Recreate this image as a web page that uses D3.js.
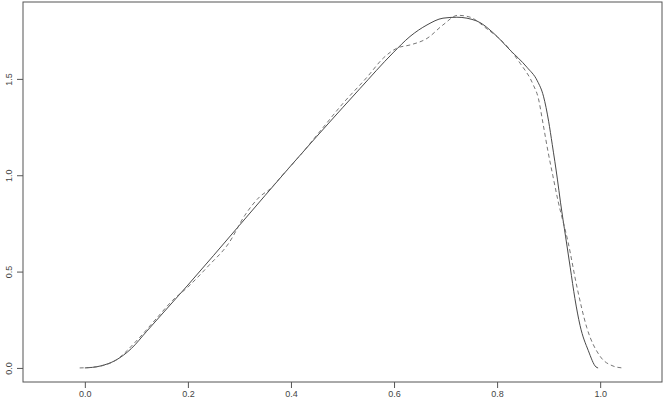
<!DOCTYPE html>
<html>
<head>
<meta charset="utf-8">
<script src="https://cdn.jsdelivr.net/npm/d3@7"></script>
<style>
  body { margin: 0; background: #fff; }
  text { font-family: "Liberation Sans", Arial, sans-serif; }
</style>
</head>
<body>
<div id="chart"></div>
<script>
// estimated curves
var solidX = [0, 0.03, 0.06, 0.09, 0.12, 0.15, 0.2, 0.3, 0.4, 0.5, 0.534, 0.598, 0.631, 0.664, 0.695, 0.722, 0.761, 0.792, 0.825, 0.858, 0.878, 0.89, 0.9, 0.907, 0.917, 0.923, 0.933, 0.942, 0.951, 0.961, 0.977, 0.992, 0.996];
var solidY = [0, 0.01, 0.04, 0.10, 0.19, 0.28, 0.43, 0.74, 1.05, 1.35, 1.45, 1.635, 1.72, 1.78, 1.815, 1.82, 1.80, 1.74, 1.65, 1.56, 1.49, 1.41, 1.28, 1.16, 0.98, 0.86, 0.68, 0.52, 0.36, 0.22, 0.09, 0.005, 0];

var dashX = [-0.01, 0.02, 0.06, 0.1, 0.14, 0.17, 0.2, 0.24, 0.28, 0.31, 0.34, 0.36, 0.38, 0.42, 0.46, 0.5, 0.548, 0.58, 0.606, 0.631, 0.664, 0.695, 0.724, 0.748, 0.78, 0.812, 0.845, 0.87, 0.88, 0.889, 0.899, 0.908, 0.918, 0.938, 0.955, 0.974, 1.0, 1.025, 1.043];
var dashY = [0, 0.005, 0.04, 0.14, 0.26, 0.35, 0.42, 0.53, 0.65, 0.79, 0.89, 0.93, 0.99, 1.11, 1.24, 1.37, 1.51, 1.61, 1.66, 1.676, 1.71, 1.78, 1.83, 1.82, 1.76, 1.69, 1.58, 1.47, 1.40, 1.27, 1.12, 1.00, 0.87, 0.65, 0.42, 0.21, 0.06, 0.01, 0];

var xTicks = [0, 0.2, 0.4, 0.6, 0.8, 1.0];
var yTicks = [0, 0.5, 1.0, 1.5];

var margin = {top: 2, right: 2, bottom: 25, left: 23},
    width = 664 - margin.left - margin.right,
    height = 407 - margin.top - margin.bottom;

var svg = d3.select("#chart")
  .append("svg")
    .attr("width", 664)
    .attr("height", 407)
  .append("g")
    .attr("transform", "translate(" + margin.left + "," + margin.top + ")");

var x = d3.scaleLinear()
  .domain([-0.12, 1.12])
  .range([0, width]);

var y = d3.scaleLinear()
  .domain([-0.073, 1.899])
  .range([height, 0]);

// box
svg.append("rect")
  .attr("x", 0).attr("y", 0)
  .attr("width", width).attr("height", height)
  .attr("fill", "none")
  .attr("stroke", "#555")
  .attr("stroke-width", 1);

var xAxis = svg.append("g")
  .attr("transform", "translate(0," + height + ")")
  .call(d3.axisBottom(x).tickValues(xTicks).tickFormat(d3.format(".1f")).tickSize(6).tickSizeOuter(0));

var yAxis = svg.append("g")
  .call(d3.axisLeft(y).tickValues(yTicks).tickFormat(d3.format(".1f")).tickSize(6).tickSizeOuter(0));

[xAxis, yAxis].forEach(function(a) {
  a.select(".domain").remove();
  a.selectAll("line").attr("stroke", "#555");
  a.selectAll("text").attr("fill", "#444").style("font-size", "9px");
});

yAxis.selectAll("text")
  .attr("transform", "rotate(-90)")
  .attr("x", 0)
  .attr("y", -11)
  .attr("dy", 0)
  .attr("text-anchor", "middle");

var line = d3.line()
  .x(function(d) { return x(d[0]); })
  .y(function(d) { return y(d[1]); })
  .curve(d3.curveMonotoneX);

svg.append("path")
  .datum(d3.zip(solidX, solidY))
  .attr("fill", "none")
  .attr("stroke", "#333")
  .attr("stroke-width", 0.9)
  .attr("d", line);

svg.append("path")
  .datum(d3.zip(dashX, dashY))
  .attr("fill", "none")
  .attr("stroke", "#666")
  .attr("stroke-width", 0.9)
  .attr("stroke-dasharray", "4,3")
  .attr("d", line);
</script>
</body>
</html>
